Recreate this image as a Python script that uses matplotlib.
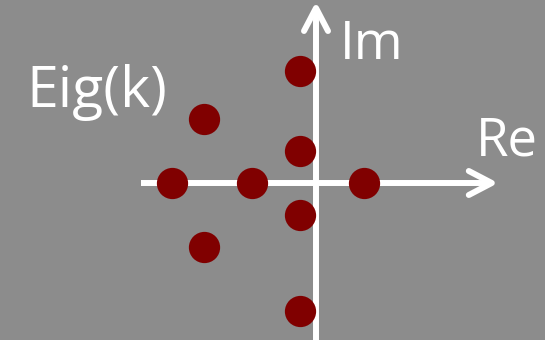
import matplotlib
matplotlib.use("Agg")
import matplotlib.pyplot as plt

# Eigenvalues (real, imaginary parts)
eig_re = [-0.5, -3.5, -0.5, -4.5, -2.0, 1.5, -0.5, -3.5, -0.5]
eig_im = [3.5, 2.0, 1.0, 0.0, 0.0, 0.0, -1.0, -2.0, -4.0]
title_text = "Eig(k)"
x_label = "Re"
y_label = "Im"

BG = "#8c8c8c"
DOT = "#800000"
W, H, DPI = 545, 340, 100
U = 32.0  # pixels per unit
ox, oy = 316.0, 183.0  # origin in pixels

fig = plt.figure(figsize=(W / DPI, H / DPI), dpi=DPI, facecolor=BG)
ax = fig.add_axes([0, 0, 1, 1])
ax.set_facecolor(BG)
ax.set_xlim(-ox / U, (W - ox) / U)
ax.set_ylim(-(H - oy) / U, oy / U)
ax.axis("off")

lw = 4.3
# horizontal axis
xl, xr = (140.8 - ox) / U, (491.8 - ox) / U
ax.plot([xl, xr], [0, 0], color="white", lw=lw, solid_capstyle="butt", zorder=1)
back, side = 23 / U, 12 / U
ax.plot([xr - back, xr, xr - back], [side, 0, -side], color="white", lw=lw,
        solid_capstyle="round", solid_joinstyle="round", zorder=1)
# vertical axis
yb, yt = -(H - oy) / U - 0.2, (oy - 8.0) / U
ax.plot([0, 0], [yb, yt], color="white", lw=lw, solid_capstyle="butt", zorder=1)
ax.plot([-side, 0, side], [yt - back, yt, yt - back], color="white", lw=lw,
        solid_capstyle="round", solid_joinstyle="round", zorder=1)

ax.plot(eig_re, eig_im, "o", color=DOT, markersize=22.5, markeredgewidth=0, zorder=3)

fam = ["Open Sans", "DejaVu Sans"]
ax.text((26 - ox) / U, (oy - 107) / U, title_text, color="white", fontsize=41,
        family=fam, va="baseline", ha="left")
ax.text((340 - ox) / U, (oy - 59) / U, y_label, color="white", fontsize=38,
        family=fam, va="baseline", ha="left")
ax.text((476 - ox) / U, (oy - 155) / U, x_label, color="white", fontsize=38,
        family=fam, va="baseline", ha="left")

fig.savefig("out.png", dpi=DPI, facecolor=BG)
